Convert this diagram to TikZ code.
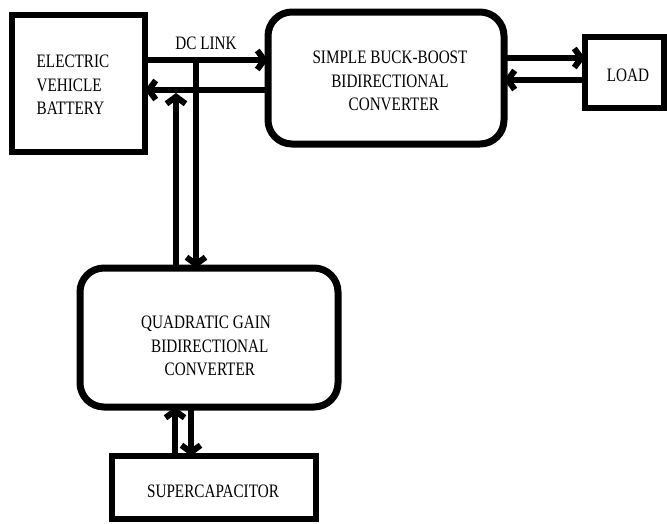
\documentclass[tikz,border=0pt]{standalone}
\usepackage{fontspec}
\newfontfamily\tnr{Liberation Serif}
\usetikzlibrary{arrows.meta}
\begin{document}
\begin{tikzpicture}[x=1pt,y=-1pt,
  blk/.style={draw=black,line width=6.5pt,inner sep=0pt,outer sep=0pt},
  rblk/.style={blk,line width=7pt,rounded corners=24pt},
  txt/.style={font=\tnr\fontsize{19}{23.5}\selectfont,xscale=0.8,transform shape,inner sep=0pt},
  conn/.style={line width=6pt,-{Straight Barb[length=7pt,width=19pt]}}]
\useasboundingbox (0,0) rectangle (667,523);
% boxes
\node[blk,minimum width=133pt,minimum height=137pt] (bat) at (78.5,83.5) {};
\node[rblk,minimum width=236pt,minimum height=132pt] (sbb) at (386,78) {};
\node[blk,minimum width=79pt,minimum height=71pt] (load) at (624.5,72.5) {};
\node[rblk,minimum width=258pt,minimum height=139pt] (qg) at (209,337.5) {};
\node[blk,minimum width=204pt,minimum height=63pt] (sc) at (214,487.5) {};
% texts
\node[txt,align=left] (battxt) at (73,85) {ELECTRIC\\VEHICLE\\BATTERY};
\node[txt] (dclink) at (206,43) {DC LINK};
\node[txt,align=center] (sbbtxt) at (390,81) {SIMPLE BUCK-BOOST\\BIDIRECTIONAL\\\ \ CONVERTER};
\node[txt] (loadtxt) at (628,75) {LOAD};
\node[txt,align=center] (qgtxt) at (206,346) {QUADRATIC GAIN\\\ \ BIDIRECTIONAL\\\ \ CONVERTER};
\node[txt] (sctxt) at (213,491) {SUPERCAPACITOR};
% level coordinates
\coordinate (yA) at (0,60);
\coordinate (yB) at (0,90);
\coordinate (xA) at (196,0);
\coordinate (xB) at (176,0);
\coordinate (yC) at (0,58);
\coordinate (yD) at (0,80);
\coordinate (xC) at (191,0);
\coordinate (xD) at (175,0);
\coordinate (jA) at (196,60);
\coordinate (jB) at (176,93);
% connectors
\draw[conn] (bat.east |- yA) -- (sbb.west |- yA);
\draw[conn] (sbb.west |- yB) -- (bat.east |- yB);
\draw[conn] (jA) -- (qg.north -| xA);
\draw[conn] (qg.north -| xB) -- (jB);
\draw[conn] (sbb.east |- yC) -- (load.west |- yC);
\draw[conn] (load.west |- yD) -- (sbb.east |- yD);
\draw[conn] (qg.south -| xC) -- (sc.north -| xC);
\draw[conn] (sc.north -| xD) -- (qg.south -| xD);
\end{tikzpicture}
\end{document}
